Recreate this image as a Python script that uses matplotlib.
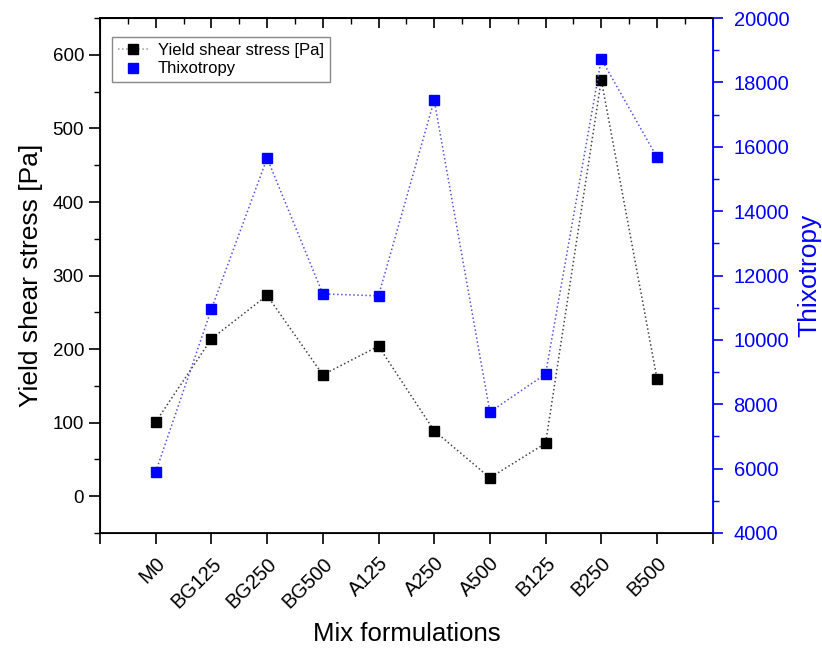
import numpy as np
import matplotlib.pyplot as plt
from matplotlib.lines import Line2D
from matplotlib.ticker import MultipleLocator

plt.rcParams['font.family'] = ['Liberation Sans', 'DejaVu Sans']

# =========================
# DATA
# =========================
mixes = ["M0", "BG125", "BG250", "BG500", "A125", "A250", "A500", "B125", "B250", "B500"]
yield_stress = [101, 214, 273, 165, 204, 89, 25, 72, 566, 160]
thixotropy = [5900, 10960, 15650, 11430, 11370, 17450, 7760, 8940, 18730, 15680]

xpos = np.arange(1, len(mixes) + 1)
blue = "#0000ff"

# =========================
# FIGURE
# =========================
fig = plt.figure(figsize=(8.22, 6.48), dpi=100)
ax = fig.add_axes([0.1217, 0.1775, 0.7453, 0.7945])
ax2 = ax.twinx()

ax.plot(xpos, yield_stress, linestyle=":", color="#444444", linewidth=1.1,
        marker="s", markersize=7, markerfacecolor="black", markeredgecolor="black")
ax2.plot(xpos, thixotropy, linestyle=":", color="#5555dd", linewidth=1.1,
         marker="s", markersize=7, markerfacecolor=blue, markeredgecolor=blue)

# left axis
ax.set_xlim(0, 11)
ax.set_ylim(-50, 650)
ax.yaxis.set_major_locator(MultipleLocator(100))
ax.yaxis.set_minor_locator(MultipleLocator(50))
ax.set_xticks(np.arange(0, 12))
ax.set_xticklabels([""] + mixes + [""], rotation=45, ha="right", rotation_mode="anchor")
ax.tick_params(axis="x", which="major", direction="out", length=8, width=1.2,
               labelsize=14.5, pad=7, top=False)
ax.tick_params(axis="y", which="major", direction="out", length=8, width=1.2, labelsize=13.5)
ax.tick_params(axis="y", which="minor", direction="out", length=4, width=1.0)
ax.set_ylabel("Yield shear stress [Pa]", fontsize=19, labelpad=7)
ax.set_xlabel("Mix formulations", fontsize=18.5, labelpad=8)
for s in ["left", "bottom", "top"]:
    ax.spines[s].set_linewidth(1.3)

# top ticks (inward, with minors)
top = ax.secondary_xaxis("top")
top.set_xticks(np.arange(0, 12))
top.xaxis.set_minor_locator(MultipleLocator(0.5))
top.tick_params(which="major", direction="in", length=7, width=1.2, labeltop=False)
top.tick_params(which="minor", direction="in", length=4, width=1.0)
top.spines["top"].set_linewidth(1.3)

# right axis
ax2.set_ylim(4000, 20000)
ax2.yaxis.set_major_locator(MultipleLocator(2000))
ax2.yaxis.set_minor_locator(MultipleLocator(1000))
ax2.tick_params(axis="y", which="major", direction="out", length=7, width=1.2,
                colors=blue, labelsize=14.5, pad=8)
ax2.tick_params(axis="y", which="minor", direction="out", length=4, width=1.0, colors=blue)
ax2.spines["right"].set_color(blue)
ax2.spines["right"].set_linewidth(1.3)
ax2.set_ylabel("Thixotropy", fontsize=19, color=blue, labelpad=6)

# legend
handles = [
    Line2D([], [], linestyle=":", color="#999999", linewidth=1.1, marker="s",
           markersize=7, markerfacecolor="black", markeredgecolor="black"),
    Line2D([], [], linestyle="none", marker="s", markersize=7,
           markerfacecolor=blue, markeredgecolor=blue),
]
leg = ax.legend(handles, ["Yield shear stress [Pa]", "Thixotropy"], loc="upper left",
                bbox_to_anchor=(0.02, 0.963), borderaxespad=0, fontsize=12,
                fancybox=False, edgecolor="#888888", framealpha=1, handlelength=1.8,
                borderpad=0.35, labelspacing=0.2, handletextpad=0.6)
leg.get_frame().set_linewidth(1.0)

fig.savefig("out.png", dpi=100)
